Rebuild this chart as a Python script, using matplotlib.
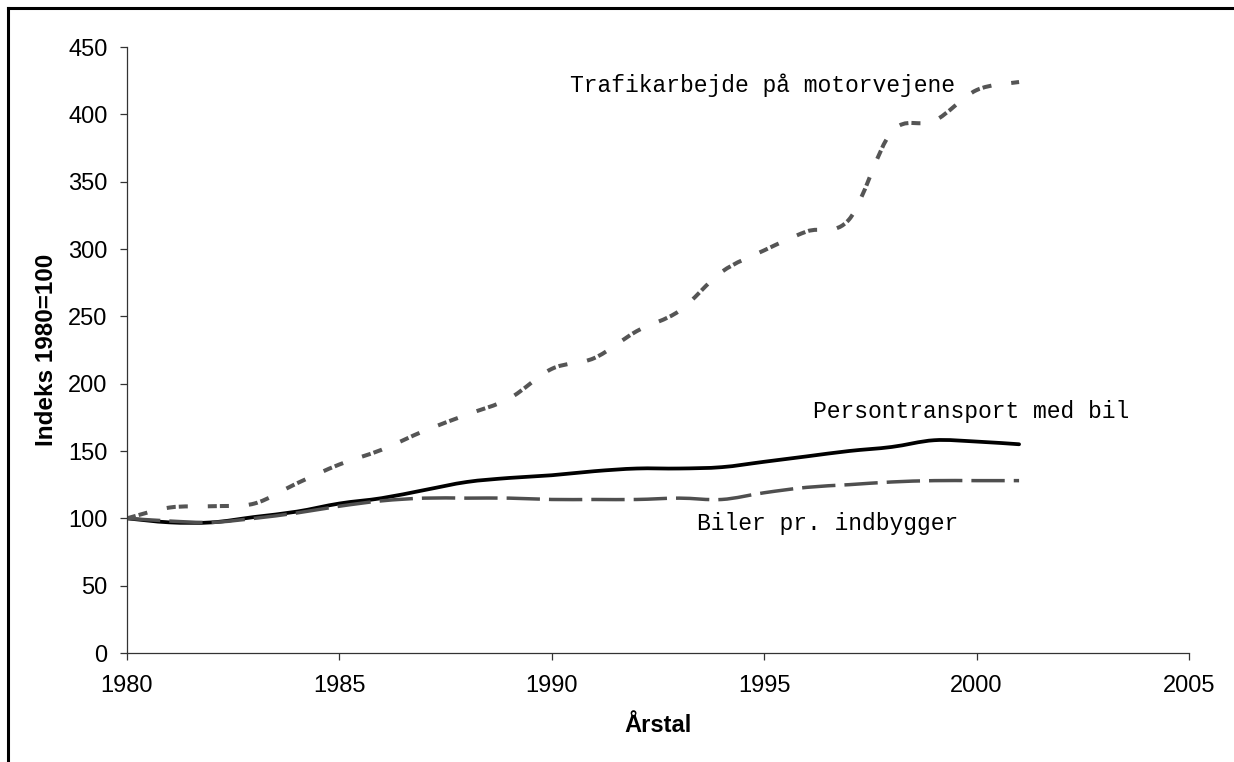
import matplotlib
matplotlib.use('Agg')
import matplotlib.pyplot as plt
from matplotlib.path import Path
from matplotlib.patches import PathPatch
from matplotlib.lines import Line2D
import numpy as np

years = list(range(1980, 2002))
trafik = [100, 108, 109, 111, 126, 140, 151, 165, 177, 189, 211, 219,
          239, 254, 283, 299, 313, 322, 387, 395, 418, 424]
person = [100, 97, 97, 101, 105, 111, 115, 121, 127, 130, 132, 135,
          137, 137, 138, 142, 146, 150, 153, 158, 157, 155]
biler = [100, 98, 97, 100, 104, 109, 113, 115, 115, 115, 114, 114,
         114, 115, 114, 119, 123, 125, 127, 128, 128, 128]

label_trafik = 'Trafikarbejde på motorvejene'
label_person = 'Persontransport med bil'
label_biler = 'Biler pr. indbygger'
xticks = [1980, 1985, 1990, 1995, 2000, 2005]
yticks = [0, 50, 100, 150, 200, 250, 300, 350, 400, 450]

plt.rcParams['lines.scale_dashes'] = False
plt.rcParams['font.family'] = ['Liberation Sans', 'DejaVu Sans']

W, H = 1234, 762
fig = plt.figure(figsize=(W / 100, H / 100), dpi=100)
ax = fig.add_axes([127 / W, 1 - 653 / H, (1189 - 127) / W, (653 - 47) / H])


def smooth_path(xs, ys):
    pts = np.column_stack([xs, ys]).astype(float)
    n = len(pts)
    verts = [pts[0]]
    codes = [Path.MOVETO]
    for i in range(n - 1):
        p_prev = pts[i - 1] if i > 0 else pts[i]
        p_next2 = pts[i + 2] if i + 2 < n else pts[i + 1]
        c1 = pts[i] + (pts[i + 1] - p_prev) / 6
        c2 = pts[i + 1] - (p_next2 - pts[i]) / 6
        verts += [c1, c2, pts[i + 1]]
        codes += [Path.CURVE4] * 3
    return Path(verts, codes)


ax.add_patch(PathPatch(smooth_path(years, person), fill=False,
                       edgecolor='black', lw=2.7, capstyle='round',
                       joinstyle='round'))
ax.add_patch(PathPatch(smooth_path(years, biler), fill=False,
                       edgecolor='#4f4f4f', lw=2.5, capstyle='butt',
                       linestyle=(0, (24, 6.5))))
ax.add_patch(PathPatch(smooth_path(years, trafik), fill=False,
                       edgecolor='#555555', lw=2.9, capstyle='butt',
                       linestyle=(0, (6.5, 2.2, 6.5, 14.4))))

ax.set_xlim(1980, 2005)
ax.set_ylim(0, 450)
ax.set_xticks(xticks)
ax.set_yticks(yticks)
ax.spines['top'].set_visible(False)
ax.spines['right'].set_visible(False)
for s in ('left', 'bottom'):
    ax.spines[s].set_color('#333333')
    ax.spines[s].set_linewidth(0.9)
ax.tick_params(axis='both', direction='out', length=5, width=0.9,
               color='#333333', labelsize=17)
ax.tick_params(axis='x', pad=11)
ax.tick_params(axis='y', pad=9)

ax.set_xlabel('Årstal', fontsize=17, fontweight='bold', labelpad=12)
ax.set_ylabel('Indeks 1980=100', fontsize=17.5, fontweight='bold', labelpad=7)

mono = ['Liberation Mono', 'DejaVu Sans Mono']
ax.text(1990.43, 421.8, label_trafik, family=mono, fontsize=16.6,
        ha='left', va='center')
ax.text(1996.15, 179.7, label_person, family=mono, fontsize=16.6,
        ha='left', va='center')
ax.text(1993.42, 96.5, label_biler, family=mono, fontsize=16.6,
        ha='left', va='center')

# outer frame (top and left edges visible)
fig.add_artist(Line2D([7.5 / W, 7.5 / W], [0, 1 - 7.5 / H],
                      transform=fig.transFigure, color='black', lw=2.2))
fig.add_artist(Line2D([7.5 / W, 1], [1 - 7.5 / H, 1 - 7.5 / H],
                      transform=fig.transFigure, color='black', lw=2.2))

fig.savefig('out.png', dpi=100)
